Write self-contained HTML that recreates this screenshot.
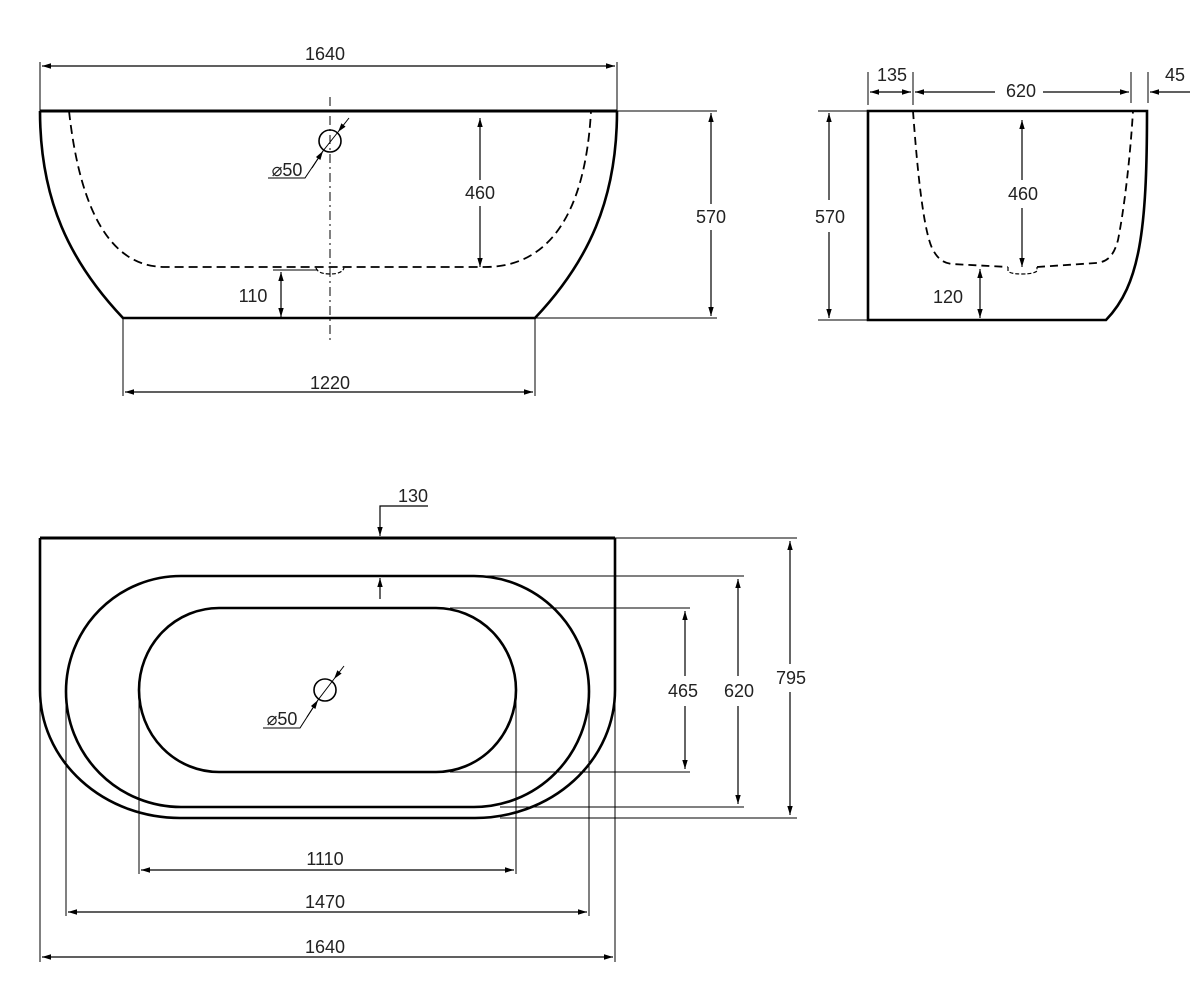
<!DOCTYPE html>
<html><head><meta charset="utf-8"><style>
html,body{margin:0;padding:0;background:#fff;}
svg{display:block;}
text{font-family:"Liberation Sans",sans-serif;font-size:18px;fill:#222;text-anchor:middle;}
</style></head><body>
<svg width="1200" height="1000" viewBox="0 0 1200 1000" xmlns="http://www.w3.org/2000/svg">
<defs>
<marker id="a" viewBox="0 0 10 10" refX="10" refY="5" markerWidth="9" markerHeight="9" orient="auto-start-reverse" markerUnits="userSpaceOnUse"><path d="M0,2 L10,5 L0,8 z" fill="#000"/></marker>
</defs>
<g fill="none" stroke="#000">
<!-- FRONT VIEW -->
<path d="M40,111 L617,111" stroke-width="3"/>
<path d="M40,111 C40,200 70,262 123,318 L535,318 C588,262 617,200 617,111" stroke-width="2.6"/>
<path d="M69,111 C80,210 110,267 165,267 L485,267 C545,267 585,220 591,111" stroke-width="1.8" stroke-dasharray="9,5"/>
<path d="M316,268 Q318,274 330,274 Q342,274 344,268" stroke-width="1.2" stroke-dasharray="4,2"/>
<path d="M330,97 L330,343" stroke-width="1" stroke-dasharray="9,4,2,4"/>
<circle cx="330" cy="141" r="11" stroke-width="1.6"/>
<path d="M349,118 L338,132" stroke-width="1" marker-end="url(#a)"/>
<path d="M338,132 L323,151 L305,178 L268,178" stroke-width="1"/>
<path d="M312,168 L323,151" stroke-width="1" marker-end="url(#a)"/>
<path d="M40,62 L40,111 M617,62 L617,111" stroke-width="1"/>
<path d="M42,66 L615,66" stroke-width="1.2" marker-start="url(#a)" marker-end="url(#a)"/>
<path d="M617,111 L717,111 M535,318 L717,318" stroke-width="1"/>
<path d="M711,204 L711,113" stroke-width="1.2" marker-end="url(#a)"/>
<path d="M711,230 L711,316" stroke-width="1.2" marker-end="url(#a)"/>
<path d="M480,180 L480,118" stroke-width="1.2" marker-end="url(#a)"/>
<path d="M480,206 L480,267" stroke-width="1.2" marker-end="url(#a)"/>
<path d="M273,270 L318,270" stroke-width="1"/>
<path d="M281,295 L281,272" stroke-width="1.2" marker-end="url(#a)"/>
<path d="M281,295 L281,317" stroke-width="1.2" marker-end="url(#a)"/>
<path d="M123,318 L123,396 M535,318 L535,396" stroke-width="1"/>
<path d="M125,392 L533,392" stroke-width="1.2" marker-start="url(#a)" marker-end="url(#a)"/>

<!-- SIDE VIEW -->
<path d="M868,111 L1147,111 C1147,230 1140,285 1106,320 L868,320 Z" stroke-width="2.6"/>
<path d="M913,111 C918,180 924,230 932,248 C938,260 944,263 952,264 L1008,267 M1037,267 L1096,263 C1108,262 1114,255 1118,240 C1124,210 1130,160 1133,111" stroke-width="1.8" stroke-dasharray="8,5"/>
<path d="M1008,267 L1008,271 Q1010,274 1022,274 Q1034,274 1037,271 L1037,267" stroke-width="1.2" stroke-dasharray="4,2"/>
<path d="M818,111 L868,111 M818,320 L868,320" stroke-width="1"/>
<path d="M829,200 L829,113" stroke-width="1.2" marker-end="url(#a)"/>
<path d="M829,232 L829,318" stroke-width="1.2" marker-end="url(#a)"/>
<path d="M868,72 L868,105 M913,72 L913,105 M1131,72 L1131,103 M1148,72 L1148,103" stroke-width="1"/>
<path d="M870,92 L911,92" stroke-width="1.2" marker-start="url(#a)" marker-end="url(#a)"/>
<path d="M995,92 L915,92" stroke-width="1.2" marker-end="url(#a)"/>
<path d="M1043,92 L1129,92" stroke-width="1.2" marker-end="url(#a)"/>
<path d="M1190,92 L1150,92" stroke-width="1.2" marker-end="url(#a)"/>
<path d="M1022,180 L1022,120" stroke-width="1.2" marker-end="url(#a)"/>
<path d="M1022,208 L1022,267" stroke-width="1.2" marker-end="url(#a)"/>
<path d="M980,293 L980,269" stroke-width="1.2" marker-end="url(#a)"/>
<path d="M980,293 L980,318" stroke-width="1.2" marker-end="url(#a)"/>

<!-- TOP VIEW -->
<path d="M40,538 L615,538" stroke-width="3"/>
<path d="M40,538 L40,690 A140,128 0 0 0 180,818 L475,818 A140,128 0 0 0 615,690 L615,538" stroke-width="2.6"/>
<rect x="66" y="576" width="523" height="231" rx="115" ry="115.5" stroke-width="2.6"/>
<rect x="139" y="608" width="377" height="164" rx="80" ry="82" stroke-width="2.6"/>
<circle cx="325" cy="690" r="11" stroke-width="1.6"/>
<path d="M344,666 L334,679" stroke-width="1" marker-end="url(#a)"/>
<path d="M334,679 L318,700 L300,728 L263,728" stroke-width="1"/>
<path d="M307,717 L318,700" stroke-width="1" marker-end="url(#a)"/>
<path d="M428,506 L380,506 L380,536" stroke-width="1.2" marker-end="url(#a)"/>
<path d="M380,599 L380,578" stroke-width="1.2" marker-end="url(#a)"/>
<path d="M615,538 L797,538 M475,576 L744,576 M450,608 L690,608 M450,772 L690,772 M500,807 L744,807 M500,818 L797,818" stroke-width="1"/>
<path d="M685,676 L685,611" stroke-width="1.2" marker-end="url(#a)"/>
<path d="M685,706 L685,769" stroke-width="1.2" marker-end="url(#a)"/>
<path d="M738,676 L738,579" stroke-width="1.2" marker-end="url(#a)"/>
<path d="M738,706 L738,804" stroke-width="1.2" marker-end="url(#a)"/>
<path d="M790,664 L790,541" stroke-width="1.2" marker-end="url(#a)"/>
<path d="M790,692 L790,815" stroke-width="1.2" marker-end="url(#a)"/>
<path d="M139,690 L139,874 M516,690 L516,874 M66,700 L66,916 M589,700 L589,916 M40,690 L40,962 M615,690 L615,962" stroke-width="1"/>
<path d="M141,870 L514,870" stroke-width="1.2" marker-start="url(#a)" marker-end="url(#a)"/>
<path d="M68,912 L587,912" stroke-width="1.2" marker-start="url(#a)" marker-end="url(#a)"/>
<path d="M42,957 L613,957" stroke-width="1.2" marker-start="url(#a)" marker-end="url(#a)"/>
</g>
<g>
<text x="325" y="60">1640</text>
<text x="287" y="176">⌀50</text>
<text x="480" y="199">460</text>
<text x="711" y="223">570</text>
<text x="253" y="302">110</text>
<text x="330" y="389">1220</text>
<text x="892" y="81">135</text>
<text x="1021" y="97">620</text>
<text x="1175" y="81">45</text>
<text x="830" y="223">570</text>
<text x="1023" y="200">460</text>
<text x="948" y="303">120</text>
<text x="413" y="502">130</text>
<text x="282" y="725">⌀50</text>
<text x="683" y="697">465</text>
<text x="739" y="697">620</text>
<text x="791" y="684">795</text>
<text x="325" y="865">1110</text>
<text x="325" y="908">1470</text>
<text x="325" y="953">1640</text>
</g>
</svg>
</body></html>
